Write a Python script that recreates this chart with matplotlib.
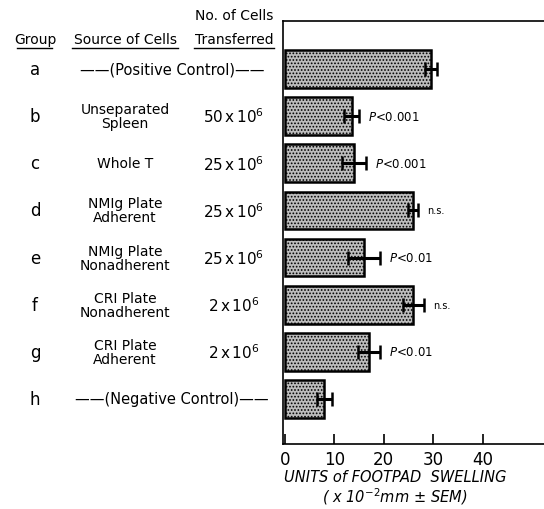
import matplotlib
matplotlib.use('Agg')
import matplotlib.pyplot as plt
import matplotlib.transforms as mtransforms
import numpy as np

groups = ['a', 'b', 'c', 'd', 'e', 'f', 'g', 'h']
sources = ['', 'Unseparated\nSpleen', 'Whole T', 'NMIg Plate\nAdherent', 'NMIg Plate\nNonadherent',
           'CRI Plate\nNonadherent', 'CRI Plate\nAdherent', '']
cells = ['', r'50$\,$x$\,$10$^6$', r'25$\,$x$\,$10$^6$', r'25$\,$x$\,$10$^6$', r'25$\,$x$\,$10$^6$',
         r'2$\,$x$\,$10$^6$', r'2$\,$x$\,$10$^6$', '']
swelling = [29.5, 13.5, 14.0, 26.0, 16.0, 26.0, 17.0, 8.0]
sem = [1.2, 1.5, 2.5, 1.0, 3.3, 2.2, 2.3, 1.6]
pvals = ['', 'P<0.001', 'P<0.001', 'n.s.', 'P<0.01', 'n.s.', 'P<0.01', '']
controls = {0: '——(Positive Control)——', 7: '——(Negative Control)——'}

plt.rcParams['font.family'] = ['DejaVu Sans']
plt.rcParams['hatch.color'] = '#6e6e6e'
plt.rcParams['hatch.linewidth'] = 0.8
fig = plt.figure(figsize=(5.44, 5.10), dpi=100)
ax = fig.add_axes([0.52, 0.127, 0.49, 0.83])

y = np.arange(len(groups))
ax.barh(y, swelling, height=0.8, color='#bdbdbd', edgecolor='black', linewidth=1.8,
        hatch='.....', zorder=2)
ax.errorbar(swelling, y, xerr=sem, fmt='none', ecolor='black', elinewidth=2.2,
            capsize=5, capthick=1.8, zorder=3)

for i, p in enumerate(pvals):
    if not p:
        continue
    x = swelling[i] + sem[i] + 1.8
    if p.startswith('P'):
        ax.text(x, y[i], r'$\it{P}$' + p[1:], va='center', ha='left', fontsize=8.5)
    else:
        ax.text(x, y[i], p, va='center', ha='left', fontsize=7)

ax.set_xlim(-0.4, 53.5)
ax.set_ylim(7.96, -1.02)
ax.set_xticks([0, 10, 20, 30, 40])
ax.set_yticks([])
ax.tick_params(axis='x', direction='in', length=7, width=1.2, labelsize=12, pad=4)
ax.spines['right'].set_visible(False)
for s in ['left', 'bottom', 'top']:
    ax.spines[s].set_linewidth(1.2)

fig.text(395 / 544, 1 - 478 / 510, 'UNITS of FOOTPAD  SWELLING',
         ha='center', va='center', fontsize=10.5, style='italic')
fig.text(395 / 544, 1 - 497 / 510, r'( x 10$^{-2}$mm $\pm$ SEM)',
         ha='center', va='center', fontsize=10.5, style='italic')

# left-hand table
trans = mtransforms.blended_transform_factory(fig.transFigure, ax.transData)
col_group = 35 / 544
col_src = 125 / 544
col_cells = 234 / 544
col_ctrl = 172 / 544
for i in range(len(groups)):
    ax.text(col_group, y[i], groups[i], transform=trans, ha='center', va='center', fontsize=12)
    if i in controls:
        ax.text(col_ctrl, y[i], controls[i], transform=trans, ha='center', va='center', fontsize=10.5)
    else:
        ax.text(col_src, y[i], sources[i], transform=trans, ha='center', va='center',
                fontsize=10, linespacing=1.0)
        ax.text(col_cells, y[i], cells[i], transform=trans, ha='center', va='center', fontsize=11)

hy = 1 - 40 / 510
fig.text(col_group, hy, 'Group', ha='center', va='center', fontsize=10)
fig.text(col_src, hy, 'Source of Cells', ha='center', va='center', fontsize=10)
fig.text(col_cells, hy, 'Transferred', ha='center', va='center', fontsize=10)
fig.text(col_cells, 1 - 16 / 510, 'No. of Cells', ha='center', va='center', fontsize=10)
for x0, x1 in [(17, 52), (72, 178), (194, 274)]:
    fig.add_artist(plt.Line2D([x0 / 544, x1 / 544], [1 - 49 / 510] * 2, color='black', lw=1.0))

fig.savefig('out.png', dpi=100)
